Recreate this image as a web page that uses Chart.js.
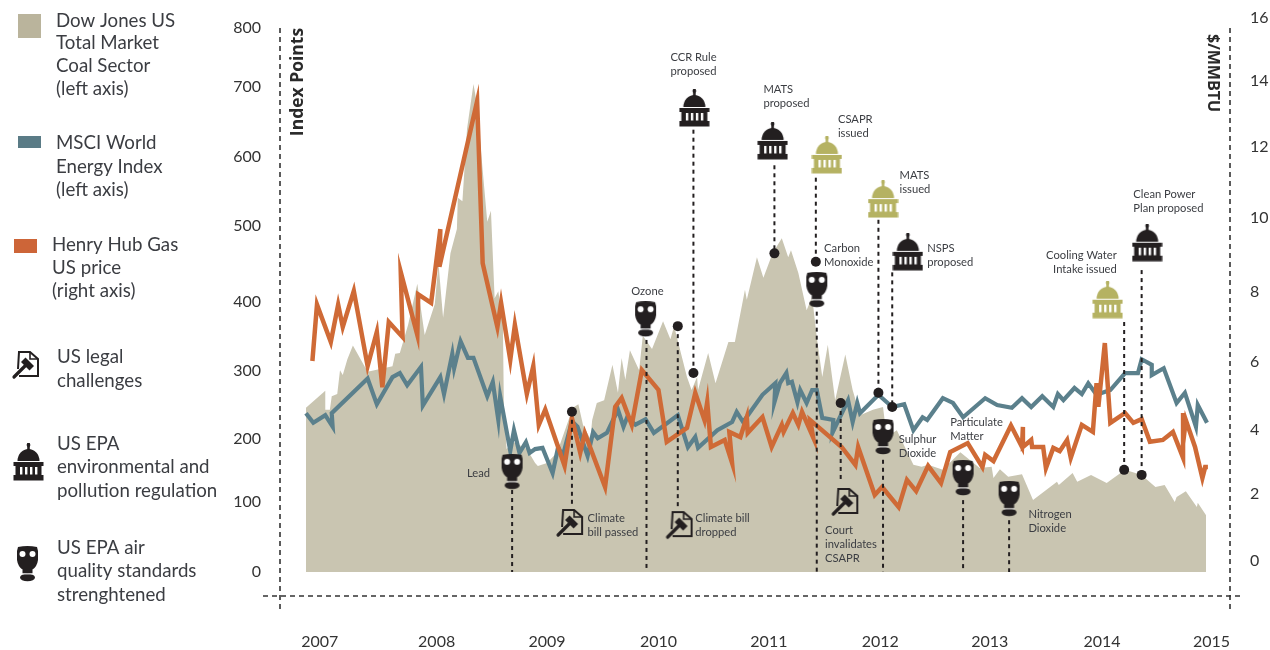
<!DOCTYPE html>
<html><head><meta charset="utf-8">
<style>html,body{margin:0;padding:0;background:#fff}canvas{display:block}</style>
<script src="https://cdn.jsdelivr.net/npm/chart.js@4/dist/chart.umd.min.js"></script>
</head><body><canvas id="c" width="1270" height="650"></canvas>
<script>
// x values are months counted from the first sample of the series
const yearLabels=['2007','2008','2009','2010','2011','2012','2013','2014','2015'];
const yearMonths=[1.6,14.3,26.3,38.4,50.4,62.5,74.4,86.6,98.5];
const leftTicks=[0,100,200,300,400,500,600,700,800];
const leftRows=[572,502,439,371,302,226,157,87,28];
const rightTicks=[0,2,4,6,8,10,12,14,16];
const rightRows=[561,494,430,362,292,218,147,81,18];

const coalX=[0.1,2.2,2.2,2.7,2.9,3.5,3.8,4.1,4.6,5.2,6.8,9.5,9.8,10.3,11.2,12.2,13.0,14.1,14.5,15.0,15.8,16.5,16.6,17.1,17.6,18.3,18.7,19.3,19.8,20.2,20.6,21.0,21.5,21.6,21.9,22.7,24.1,25.0,25.3,26.3,27.4,29.1,29.7,30.2,31.0,31.2,31.7,32.5,33.4,34.0,34.4,34.8,35.3,36.3,36.7,37.7,38.9,39.7,40.1,41.5,42.0,42.6,42.7,43.8,44.6,46.0,46.7,47.8,48.0,49.1,49.8,50.8,51.8,52.5,52.8,53.6,54.5,55.1,55.6,56.2,56.8,57.6,58.7,59.5,60.3,61.7,62.8,63.2,64.3,66.1,67.0,67.7,69.3,71.2,73.3,74.6,74.8,75.5,76.4,77.9,79.1,81.7,81.9,83.4,83.9,85.4,87.1,89.1,90.9,92.4,93.4,94.5,94.7,95.7,96.9,97.0,97.9];
const coalY=[246,271,243,243,263,266,301,294,317,337,299,307,325,326,367,424,352,397,451,377,464,496,541,536,640,705,674,581,506,522,405,414,367,251,184,195,184,162,157,162,179,246,251,221,200,228,253,257,309,268,319,287,330,301,351,332,372,346,365,291,272,291,272,326,282,342,342,416,403,459,432,464,484,459,468,438,388,407,349,291,338,257,324,272,235,243,247,203,213,159,156,159,151,179,154,156,138,152,140,144,103,132,127,146,132,143,130,151,143,124,127,100,108,117,93,99,81];

const msciX=[0.1,0.9,2.2,3.0,2.9,6.8,7.8,9.5,10.3,11.1,12.6,12.8,14.7,15.1,16.0,16.2,16.9,17.7,18.3,19.8,20.4,21.0,21.2,22.3,22.7,23.3,24.0,24.4,25.0,25.8,26.9,27.5,28.0,29.0,29.6,30.7,31.3,31.8,32.8,34.0,34.6,35.0,35.9,37.0,37.9,40.5,41.6,42.4,42.7,44.8,46.4,46.9,47.6,49.7,51.1,51.0,51.6,52.3,52.5,52.9,53.5,53.8,54.5,55.1,55.6,56.2,57.4,57.3,59.0,59.5,60.0,60.3,62.3,63.8,65.1,66.1,67.1,67.6,69.3,70.4,71.5,73.9,75.2,76.8,77.9,78.9,80.1,81.3,81.8,82.4,83.6,84.4,85.1,86.0,87.5,89.1,90.5,90.9,92.0,92.0,93.3,94.7,95.6,96.8,97.0,98.0];
const msciY=[238,224,235,218,238,289,251,291,297,279,306,249,291,266,325,304,343,319,319,263,284,228,263,181,213,178,195,178,184,186,146,187,173,226,218,173,210,201,209,243,218,232,221,229,209,235,187,203,186,213,225,240,225,265,282,254,282,297,282,284,254,272,253,272,272,231,228,209,257,225,253,238,265,247,251,213,232,228,260,253,232,260,250,246,260,247,263,247,266,257,275,266,282,265,272,297,297,317,309,294,304,253,268,218,250,224];

const gasX=[0.8,1.3,2.8,3.6,4.1,5.3,6.8,7.8,8.4,9.1,10.6,10.4,12.2,12.3,13.7,14.7,14.6,18.7,19.3,20.9,21.3,22.3,22.8,24.1,24.8,25.4,26.1,28.2,29.0,29.9,30.4,32.6,33.7,34.4,35.5,36.6,38.4,39.3,41.5,42.4,43.4,43.7,44.1,45.6,46.4,46.1,47.3,48.0,48.1,49.7,50.7,51.8,52.0,53.0,53.6,54.0,55.2,54.9,58.3,59.8,60.1,61.9,62.7,64.5,65.4,66.4,67.7,69.1,70.1,72.0,73.6,73.9,74.8,76.7,77.9,78.0,78.0,78.9,79.0,80.2,80.5,81.3,82.0,82.8,83.2,84.4,85.6,86.0,86.2,86.9,87.5,89.1,90.0,90.9,91.8,93.2,94.3,95.4,95.4,95.6,95.7,96.7,97.5,97.8,98.1];
const gasY=[6.03,7.64,6.57,7.64,7.0,8.03,5.88,6.86,5.26,7.14,6.71,8.54,6.77,7.93,7.69,9.70,8.68,13.39,8.78,7.0,7.69,6.06,7.06,5.06,5.88,4.15,4.6,2.88,4.35,3.29,3.9,2.22,4.68,4.94,4.15,5.76,5.18,3.63,4.06,5.09,4.29,4.82,3.47,3.69,2.97,3.94,3.78,4.38,3.91,4.38,3.47,4.15,3.94,4.5,4.15,4.53,3.78,4.29,3.47,2.91,3.47,1.97,2.22,1.61,2.44,2.09,2.88,2.34,3.31,3.59,2.84,3.22,3.03,4.13,3.47,4.09,3.47,3.69,3.47,3.47,2.81,3.44,3.34,3.69,3.13,4.15,3.94,5.38,4.68,6.54,4.21,4.5,4.21,4.32,3.63,3.69,3.94,3.13,4.5,4.06,4.29,3.47,2.5,2.84,2.84];

// event stems, dots, icons and captions, all in axis units (month, left-axis value)
const stemMonth=[22.5,29.0,37.1,40.5,42.2,51.0,55.5,55.6,62.3,63.8,58.2,62.8,71.5,76.5,89.0,90.9];
const stemTop=[119,240,345,365,639,588,570,386,509,439,253,167,103,74,371,442];
const stemBottom=[0,96,0,93,297,464,453,0,268,247,135,0,0,0,151,143];
const dotMonth=[29.0,40.5,42.2,51.0,55.5,62.3,63.8,58.2,89.0,90.9];
const dotValue=[240,365,297,464,453,268,247,253,151,143];
const iconMonth=[22.5,28.8,37.0,40.7,42.3,50.8,56.7,55.6,62.8,65.5,58.7,62.8,71.5,76.5,87.2,91.5];
const iconValue=[148,70,375,67,670,623,603,416,539,466,100,203,138,105,403,478];
const iconKind=['mask','legal','mask','legal','epa','epa','olive','mask','olive','epa','legal','mask','mask','mask','olive','epa'];
const captionText=[['Lead'],['Climate','bill passed'],['Ozone'],['Climate bill','dropped'],['CCR Rule','proposed'],['MATS','proposed'],['CSAPR','issued'],['Carbon','Monoxide'],['MATS','issued'],['NSPS','proposed'],['Court','invalidates','CSAPR'],['Sulphur','Dioxide'],['Particulate','Matter'],['Nitrogen','Dioxide'],['Cooling Water','Intake issued'],['Clean Power','Plan proposed']];
const captionMonth=[17.6,30.7,37.2,42.4,39.7,49.8,57.9,56.4,64.6,67.6,56.5,64.5,70.1,78.6,88.2,90.0];
const captionValue=[146,76,414,76,751,697,654,471,574,470,59,200,224,83,461,546];
const captionAlign=['left','left','center','left','left','left','left','left','left','left','left','left','left','left','right','left'];

const legendBlocks=[
 {x:56,ys:[21,43,66,89],t:['Dow Jones US','Total Market','Coal Sector','(left axis)']},
 {x:56,ys:[143,167,190],t:['MSCI World','Energy Index','(left axis)']},
 {x:52,ys:[245,268,291],t:['Henry Hub Gas','US price','(right axis)']},
 {x:57,ys:[357,381],t:['US legal','challenges']},
 {x:57,ys:[444,467,491],t:['US EPA','environmental and','pollution regulation']},
 {x:57,ys:[548,571,595],t:['US EPA air','quality standards','strenghtened']}
];

const COAL='#c9c5b1',MSCI='#5b808c',GAS='#cf6a36',INK='#231f20',OLIVE='#b5b262',TEXT='#3b3d42';
const FONT='Lato, "Open Sans", sans-serif';
const TITLE_FONT='"Open Sans", Lato, sans-serif';

// axes whose printed ticks are not evenly spaced
const rowsByAxis={y:[leftTicks,leftRows],yr:[rightTicks,rightRows]};
class KnottedScale extends Chart.LinearScale{
  getPixelForValue(v){
    const [vs,rs]=rowsByAxis[this.id];
    let i=0; while(i<vs.length-2&&v>vs[i+1])i++;
    return rs[i]+(v-vs[i])*(rs[i+1]-rs[i])/(vs[i+1]-vs[i]);
  }
  getValueForPixel(p){
    const [vs,rs]=rowsByAxis[this.id];
    let i=0; while(i<rs.length-2&&p<rs[i+1])i++;
    return vs[i]+(p-rs[i])*(vs[i+1]-vs[i])/(rs[i+1]-rs[i]);
  }
}
KnottedScale.id='knotted';
KnottedScale.defaults=Chart.LinearScale.defaults;
Chart.register(KnottedScale);

function mk(w,h,draw){const c=document.createElement('canvas');c.width=w;c.height=h;draw(c.getContext('2d'));return c;}
function capitol(col){return mk(31,38,g=>{
  g.fillStyle=col;
  g.fillRect(14.2,0,2.6,8);
  g.beginPath();g.arc(15.5,2,1.9,0,7);g.fill();
  g.beginPath();g.ellipse(15.5,18,11,12,0,Math.PI,0);g.fill();
  g.fillRect(0.5,19,30,4);
  g.fillRect(2.5,23,26,9);
  g.fillRect(0.5,32,30,5.5);
  g.fillStyle='#fff';
  for(const x of [7,12,17,22]) g.fillRect(x,24,2.4,7.5);
});}
const maskIcon=mk(23,36,g=>{
  g.fillStyle=INK;
  g.beginPath();g.moveTo(2,1);g.quadraticCurveTo(11.5,-1,21,1);g.lineTo(22,5);g.lineTo(22,14);
  g.quadraticCurveTo(21,21,16,24);g.lineTo(7,24);g.quadraticCurveTo(2,21,1,14);g.lineTo(1,5);g.closePath();g.fill();
  g.fillRect(6.5,24,10,3.5);
  g.beginPath();g.ellipse(11.5,31.5,7.5,3.8,0,0,7);g.fill();
  g.fillStyle='#fff';
  g.beginPath();g.arc(6.5,8,3,0,7);g.fill();g.beginPath();g.arc(16.5,8,3,0,7);g.fill();
  g.fillRect(6,27.5,11,.9);
});
const legalIcon=mk(30,30,g=>{
  g.strokeStyle=INK;g.fillStyle=INK;g.lineWidth=2;g.lineJoin='miter';
  g.beginPath();g.moveTo(7,19);g.lineTo(8,2);g.lineTo(19,2);g.lineTo(27,9);g.lineTo(27,26);g.lineTo(8,26);g.stroke();
  g.lineWidth=1.6;g.beginPath();g.moveTo(19,2);g.lineTo(19,9);g.lineTo(27,9);g.stroke();
  g.save();g.translate(16.5,14);g.rotate(Math.PI/4);g.fillRect(-6,-3.2,12,6.4);g.restore();
  g.lineWidth=3.2;g.lineCap='round';g.beginPath();g.moveTo(15,15);g.lineTo(3,27);g.stroke();
});
const icons={epa:capitol(INK),olive:capitol(OLIVE),mask:maskIcon,legal:legalIcon};

const zip=(xs,ys)=>xs.map((x,i)=>({x,y:ys[i]}));
const stems=stemMonth.map((m,i)=>({
  type:'line',data:[{x:m,y:stemTop[i]},{x:m,y:stemBottom[i]}],yAxisID:'y',order:3,
  borderColor:INK,borderWidth:2,borderDash:[4,4],pointRadius:0,fill:false,tension:0
}));

const overlay={id:'overlay',
  afterDatasetsDraw(ch){
    const g=ch.ctx,sx=ch.scales.x,sy=ch.scales.y;
    g.save();
    g.fillStyle=TEXT;g.font='11.2px '+FONT;g.textBaseline='middle';
    captionText.forEach((lines,i)=>{
      g.textAlign=captionAlign[i];
      const px=sx.getPixelForValue(captionMonth[i]),py=sy.getPixelForValue(captionValue[i]);
      lines.forEach((l,k)=>g.fillText(l,px,py+k*14));
    });
    g.restore();
  },
  afterDraw(ch){
    const g=ch.ctx,a=ch.chartArea;
    g.save();
    // dashed frame
    g.strokeStyle='#333';g.lineWidth=1.6;g.setLineDash([5,4]);
    g.beginPath();g.moveTo(a.left,28);g.lineTo(a.left,610);
    g.moveTo(a.right,28);g.lineTo(a.right,610);
    g.moveTo(263,a.bottom);g.lineTo(1240,a.bottom);g.stroke();
    g.setLineDash([]);
    // axis titles
    g.fillStyle='#2a2a2a';g.textBaseline='middle';g.textAlign='center';
    g.font='bold 17.5px '+TITLE_FONT;
    g.save();g.translate(298,82);g.rotate(-Math.PI/2);g.fillText('Index Points',0,0);g.restore();
    g.font='bold 16px '+TITLE_FONT;
    g.save();g.translate(1213,73);g.rotate(Math.PI/2);g.fillText('$/MMBTU',0,0);g.restore();
    // legend
    g.fillStyle='#bab49c';g.fillRect(18,14,23,24);
    g.fillStyle='#5a7b86';g.fillRect(18,136,23,12);
    g.fillStyle='#cd6538';g.fillRect(14,239,23,14);
    g.drawImage(legalIcon,11,350);
    g.drawImage(icons.epa,13,443);
    g.drawImage(maskIcon,16,546);
    g.fillStyle=TEXT;g.font='18.7px '+FONT;g.textAlign='left';g.textBaseline='middle';
    legendBlocks.forEach(b=>b.t.forEach((l,i)=>g.fillText(l,b.x,b.ys[i])));
    g.restore();
  }
};

const tickFont={family:FONT,size:16};
new Chart(document.getElementById('c'),{
  type:'line',
  data:{datasets:[
    {label:'Event icons',type:'line',data:zip(iconMonth,iconValue),yAxisID:'y',order:0,showLine:false,
     pointStyle:c=>icons[iconKind[c.dataIndex]],pointRadius:15,pointHoverRadius:15},
    {label:'Event dots',type:'line',data:zip(dotMonth,dotValue),yAxisID:'y',order:1,showLine:false,
     pointStyle:'circle',pointRadius:5,backgroundColor:INK,borderColor:INK,borderWidth:0},
    ...stems,
    {label:'Henry Hub Gas US price',data:zip(gasX,gasY),yAxisID:'yr',order:4,borderColor:GAS,borderWidth:4.5,pointRadius:0,fill:false,tension:0,borderJoinStyle:'miter'},
    {label:'MSCI World Energy Index',data:zip(msciX,msciY),yAxisID:'y',order:5,borderColor:MSCI,borderWidth:4.2,pointRadius:0,fill:false,tension:0,borderJoinStyle:'miter'},
    {label:'Dow Jones US Total Market Coal Sector',data:zip(coalX,coalY),yAxisID:'y',order:6,borderColor:COAL,borderWidth:0,backgroundColor:COAL,pointRadius:0,fill:'origin',tension:0}
  ]},
  options:{
    responsive:false,animation:false,events:[],
    layout:{padding:{top:10,left:0,right:0,bottom:0}},
    plugins:{legend:{display:false},tooltip:{enabled:false},title:{display:false}},
    scales:{
      x:{type:'linear',min:-2.72,max:100.5,grid:{display:false,drawTicks:false},border:{display:false},
         afterBuildTicks:s=>{s.ticks=yearMonths.map(v=>({value:v}));},
         afterFit:s=>{s.height=54;},
         ticks:{callback:(v,i)=>yearLabels[i],font:tickFont,color:'#333',padding:36,autoSkip:false,maxRotation:0,minRotation:0}},
      y:{type:'knotted',position:'left',min:-34,max:840,grid:{display:false,drawTicks:false},border:{display:false},
         afterBuildTicks:s=>{s.ticks=leftTicks.map(v=>({value:v}));},
         afterFit:s=>{s.width=280;},
         ticks:{callback:v=>String(v),font:tickFont,color:'#333',padding:19,autoSkip:false}},
      yr:{type:'knotted',position:'right',min:-1,max:16.5,grid:{display:false,drawTicks:false},border:{display:false},
         afterBuildTicks:s=>{s.ticks=rightTicks.map(v=>({value:v}));},
         afterFit:s=>{s.width=40;},
         ticks:{callback:v=>String(v),font:tickFont,color:'#333',padding:20,autoSkip:false}}
    }
  },
  plugins:[overlay]
});
</script></body></html>
